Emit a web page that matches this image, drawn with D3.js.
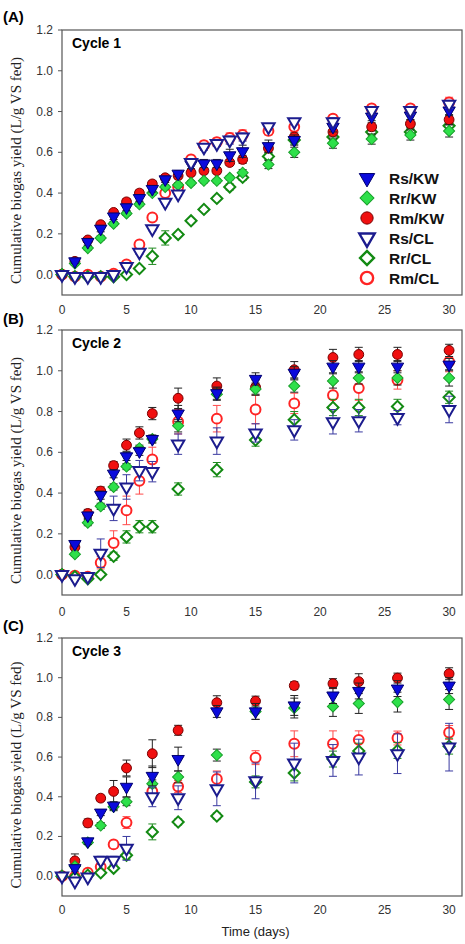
<!DOCTYPE html>
<html>
<head>
<meta charset="utf-8">
<script src="https://cdn.jsdelivr.net/npm/d3@7"></script>
<style>
  body { margin: 0; background: #fff; }
  svg { display: block; }
</style>
</head>
<body>
<svg width="465" height="944"></svg>
<script>
// days sampled in each cycle
var days1 = [0,1,2,3,4,5,6,7,8,9,10,11,12,13,14,16,18,21,24,27,30]
var days2 = [0,1,2,3,4,5,6,7,9,12,15,18,21,23,26,30]
var days3 = [0,1,2,3,4,5,7,9,12,15,18,21,23,26,30]

var seriesNames = ["Rs/KW", "Rr/KW", "Rm/KW", "Rs/CL", "Rr/CL", "Rm/CL"]
var cycleNames = ["Cycle 1", "Cycle 2", "Cycle 3"]
var panelLetters = ["(A)", "(B)", "(C)"]
var yTicks = [0.0, 0.2, 0.4, 0.6, 0.8, 1.0, 1.2]
var xTicks = [0, 5, 10, 15, 20, 25, 30]

// cycle 1 (L/g VS fed)
var c1RsKW = [0,0.065,0.16,0.225,0.285,0.33,0.375,0.42,0.467,0.495,0.54,0.545,0.545,0.585,0.605,0.63,0.66,0.725,0.775,0.78,0.805]
var c1RrKW = [0,0.055,0.13,0.18,0.25,0.30,0.345,0.40,0.43,0.44,0.45,0.46,0.46,0.475,0.50,0.54,0.60,0.645,0.665,0.685,0.705]
var c1RmKW = [0,0.065,0.17,0.245,0.305,0.357,0.40,0.445,0.475,0.485,0.50,0.51,0.51,0.55,0.565,0.62,0.675,0.70,0.725,0.74,0.76]
var c1RsCL = [0,-0.01,-0.01,-0.01,0,0.04,0.11,0.225,0.355,0.395,0.55,0.625,0.643,0.66,0.675,0.725,0.75,0.75,0.805,0.805,0.835]
var c1RrCL = [0,-0.01,-0.01,-0.01,-0.01,0,0.03,0.09,0.18,0.197,0.264,0.32,0.374,0.43,0.477,0.58,0.66,0.675,0.70,0.70,0.73]
var c1RmCL = [0,-0.01,0,-0.01,0.005,0.05,0.148,0.28,0.40,0.43,0.565,0.635,0.65,0.67,0.685,0.705,0.725,0.765,0.815,0.815,0.845]

var c1RsKWErr = [0.005,0.01,0.015,0.015,0.015,0.015,0.015,0.015,0.015,0.015,0.02,0.02,0.02,0.03,0.03,0.03,0.025,0.025,0.02,0.02,0.025]
var c1RrKWErr = [0.005,0.01,0.01,0.01,0.01,0.01,0.01,0.01,0.01,0.01,0.01,0.01,0.01,0.01,0.015,0.02,0.025,0.025,0.025,0.025,0.03]
var c1RmKWErr = [0.005,0.01,0.01,0.01,0.01,0.015,0.015,0.015,0.015,0.015,0.015,0.015,0.015,0.015,0.02,0.02,0.02,0.02,0.02,0.02,0.025]
var c1RsCLErr = [0.005,0.005,0.005,0.005,0.005,0.01,0.01,0.01,0.01,0.01,0.015,0.015,0.015,0.02,0.02,0.015,0.015,0.02,0.02,0.02,0.02]
var c1RrCLErr = [0.005,0.005,0.005,0.005,0.005,0.005,0.01,0.04,0.035,0.01,0.01,0.01,0.01,0.015,0.015,0.015,0.02,0.02,0.02,0.02,0.02]
var c1RmCLErr = [0.005,0.005,0.005,0.005,0.005,0.01,0.01,0.01,0.01,0.01,0.02,0.02,0.02,0.025,0.025,0.02,0.02,0.02,0.02,0.02,0.025]

// cycle 2
var c2RsKW = [0,0.15,0.29,0.39,0.495,0.58,0.605,0.665,0.79,0.89,0.96,0.99,1.02,1.02,1.02,1.03]
var c2RrKW = [0,0.10,0.255,0.335,0.43,0.53,0.62,0.665,0.73,0.885,0.91,0.925,0.95,0.965,0.965,0.965]
var c2RmKW = [0,0.135,0.30,0.41,0.535,0.635,0.695,0.79,0.865,0.925,0.92,1.005,1.065,1.08,1.08,1.10]
var c2RsCL = [0,-0.02,-0.01,0.105,0.325,0.43,0.51,0.505,0.64,0.655,0.695,0.71,0.75,0.755,0.77,0.81]
var c2RrCL = [0,-0.01,-0.02,0,0.09,0.185,0.235,0.235,0.42,0.515,0.66,0.76,0.82,0.82,0.825,0.87]
var c2RmCL = [0,-0.005,-0.01,0.058,0.155,0.315,0.46,0.565,0.75,0.765,0.81,0.84,0.88,0.915,0.955,1.045]

var c2RsKWErr = [0.005,0.01,0.015,0.02,0.02,0.02,0.02,0.02,0.04,0.03,0.03,0.03,0.03,0.03,0.03,0.03]
var c2RrKWErr = [0.005,0.01,0.015,0.015,0.015,0.015,0.015,0.015,0.03,0.03,0.03,0.03,0.035,0.03,0.035,0.04]
var c2RmKWErr = [0.005,0.015,0.02,0.02,0.02,0.03,0.03,0.03,0.05,0.04,0.035,0.04,0.04,0.035,0.035,0.03]
var c2RsCLErr = [0.005,0.01,0.01,0.07,0.06,0.06,0.05,0.05,0.05,0.065,0.045,0.05,0.06,0.055,0.035,0.065]
var c2RrCLErr = [0.005,0.005,0.005,0.005,0.02,0.03,0.03,0.03,0.03,0.035,0.03,0.04,0.04,0.04,0.035,0.03]
var c2RmCLErr = [0.005,0.01,0.01,0.03,0.06,0.07,0.065,0.06,0.06,0.065,0.07,0.05,0.06,0.06,0.045,0.05]

// cycle 3
var c3RsKW = [0,0.04,0.175,0.32,0.355,0.45,0.505,0.59,0.83,0.83,0.86,0.91,0.933,0.945,0.96]
var c3RrKW = [0,0.05,0.17,0.255,0.35,0.375,0.465,0.50,0.61,0.83,0.847,0.855,0.87,0.877,0.89]
var c3RmKW = [0,0.077,0.268,0.393,0.427,0.545,0.617,0.735,0.874,0.882,0.96,0.97,0.98,0.998,1.02]
var c3RsCL = [0,-0.025,-0.005,0.08,0.08,0.14,0.40,0.395,0.44,0.48,0.57,0.583,0.60,0.617,0.65]
var c3RrCL = [0,-0.005,0.005,0.017,0.04,0.105,0.223,0.273,0.303,0.475,0.52,0.59,0.63,0.633,0.655]
var c3RmCL = [0,-0.003,0.017,0.047,0.16,0.27,0.427,0.452,0.49,0.597,0.667,0.667,0.687,0.696,0.724]

var c3RsKWErr = [0.005,0.015,0.015,0.015,0.02,0.05,0.05,0.06,0.03,0.04,0.05,0.04,0.04,0.04,0.04]
var c3RrKWErr = [0.005,0.01,0.01,0.015,0.02,0.02,0.02,0.03,0.03,0.04,0.05,0.05,0.05,0.05,0.05]
var c3RmKWErr = [0.005,0.035,0.02,0.015,0.055,0.04,0.07,0.025,0.035,0.025,0.02,0.025,0.04,0.025,0.03]
var c3RsCLErr = [0.005,0.01,0.01,0.02,0.02,0.06,0.05,0.06,0.085,0.09,0.1,0.08,0.09,0.1,0.12]
var c3RrCLErr = [0.005,0.005,0.01,0.01,0.01,0.02,0.04,0.015,0.015,0.03,0.04,0.04,0.04,0.04,0.04]
var c3RmCLErr = [0.005,0.01,0.015,0.02,0.02,0.03,0.03,0.03,0.04,0.035,0.065,0.065,0.045,0.035,0.035]

var cycles = [
  { days: days1, values: [c1RsKW, c1RrKW, c1RmKW, c1RsCL, c1RrCL, c1RmCL],
    errors: [c1RsKWErr, c1RrKWErr, c1RmKWErr, c1RsCLErr, c1RrCLErr, c1RmCLErr] },
  { days: days2, values: [c2RsKW, c2RrKW, c2RmKW, c2RsCL, c2RrCL, c2RmCL],
    errors: [c2RsKWErr, c2RrKWErr, c2RmKWErr, c2RsCLErr, c2RrCLErr, c2RmCLErr] },
  { days: days3, values: [c3RsKW, c3RrKW, c3RmKW, c3RsCL, c3RrCL, c3RmCL],
    errors: [c3RsKWErr, c3RrKWErr, c3RmKWErr, c3RsCLErr, c3RrCLErr, c3RmCLErr] }
]

// marker style per series, same order as seriesNames
var styles = [
  { shape: "tri",     fill: "#0a0adc", stroke: "#00006e", bar: "#222" },
  { shape: "diamond", fill: "#2ee04a", stroke: "#18a02a", bar: "#222" },
  { shape: "circle",  fill: "#f01010", stroke: "#7a0000", bar: "#222" },
  { shape: "tri",     fill: "#fff",    stroke: "#1c1c8e", bar: "#3a3aa0" },
  { shape: "diamond", fill: "#fff",    stroke: "#138a13", bar: "#1f8a1f" },
  { shape: "circle",  fill: "#fff",    stroke: "#ff2424", bar: "#ff4a4a" }
]
// drawing order (back to front)
var drawOrder = [5, 4, 2, 1, 0, 3]

var panels = [
  { top: 30,  bottom: 295, tickY: 314, letterY: 22 },
  { top: 330, bottom: 595, tickY: 616, letterY: 324 },
  { top: 638, bottom: 896, tickY: 914, letterY: 631 }
]

var svg = d3.select("svg")
var left = 62, right = 462

var x = d3.scaleLinear().domain([0, 31]).range([left, right])

function symbolPath(shape, big) {
  var k = big ? 1.25 : 1
  if (shape == "tri") {
    return d3.symbol().type(d3.symbolTriangle).size(66 * k * k)()
  } else if (shape == "diamond") {
    return d3.symbol().type(d3.symbolSquare).size(62 * k * k)()
  }
  return d3.symbol().type(d3.symbolCircle).size(76 * k * k)()
}

function rot(shape) {
  if (shape == "tri") return " rotate(180)"
  if (shape == "diamond") return " rotate(45)"
  return ""
}

panels.forEach(function (p, i) {
  var y = d3.scaleLinear().domain([-0.1, 1.2]).range([p.bottom, p.top])
  var data = cycles[i]

  // frame
  svg.append("rect")
    .attr("x", left).attr("y", p.top)
    .attr("width", right - left).attr("height", p.bottom - p.top)
    .attr("fill", "none").attr("stroke", "#555").attr("stroke-width", 1.2)

  // y ticks
  yTicks.forEach(function (t) {
    svg.append("line")
      .attr("x1", left - 4).attr("x2", left)
      .attr("y1", y(t)).attr("y2", y(t))
      .attr("stroke", "#555")
    svg.append("text")
      .attr("x", left - 9).attr("y", y(t) + 4)
      .attr("text-anchor", "end")
      .attr("font-family", "Liberation Sans, Arial, sans-serif")
      .attr("font-size", 12).attr("fill", "#333")
      .text(t.toFixed(1))
  })

  // x ticks labels
  xTicks.forEach(function (t) {
    svg.append("text")
      .attr("x", x(t)).attr("y", p.tickY)
      .attr("text-anchor", "middle")
      .attr("font-family", "Liberation Sans, Arial, sans-serif")
      .attr("font-size", 12).attr("fill", "#333")
      .text(t)
  })

  svg.append("text")
    .attr("x", 3).attr("y", p.letterY)
    .attr("font-family", "Liberation Sans, Arial, sans-serif")
    .attr("font-weight", "bold").attr("font-size", 15)
    .text(panelLetters[i])

  svg.append("text")
    .attr("x", 72).attr("y", p.top + 18)
    .attr("font-family", "Liberation Sans, Arial, sans-serif")
    .attr("font-weight", "bold").attr("font-size", 14)
    .text(cycleNames[i])

  var cy = (p.top + p.bottom) / 2 + 8
  svg.append("text")
    .attr("transform", "translate(21," + cy + ") rotate(-90)")
    .attr("text-anchor", "middle")
    .attr("font-family", "Liberation Serif, Times New Roman, serif")
    .attr("font-size", 15).attr("fill", "#222")
    .text("Cumulative biogas yield (L/g VS fed)")

  // error bars then markers, per series
  drawOrder.forEach(function (s) {
    var st = styles[s]
    var vals = data.values[s]
    var errs = data.errors[s]
    var g = svg.append("g")
    data.days.forEach(function (d, j) {
      var cx = x(d)
      var lo = y(vals[j] - errs[j]), hi = y(vals[j] + errs[j])
      g.append("line").attr("x1", cx).attr("x2", cx).attr("y1", lo).attr("y2", hi)
        .attr("stroke", st.bar).attr("stroke-width", 1)
      g.append("line").attr("x1", cx - 4).attr("x2", cx + 4).attr("y1", lo).attr("y2", lo)
        .attr("stroke", st.bar).attr("stroke-width", 1)
      g.append("line").attr("x1", cx - 4).attr("x2", cx + 4).attr("y1", hi).attr("y2", hi)
        .attr("stroke", st.bar).attr("stroke-width", 1)
    })
    data.days.forEach(function (d, j) {
      g.append("path")
        .attr("d", symbolPath(st.shape, false))
        .attr("transform", "translate(" + x(d) + "," + y(vals[j]) + ")" + rot(st.shape))
        .attr("fill", st.fill)
        .attr("stroke", st.stroke)
        .attr("stroke-width", st.fill == "#fff" ? 2 : 1)
    })
  })
})

// legend in panel A
seriesNames.forEach(function (name, i) {
  var st = styles[i]
  var ly = 178 + i * 20
  svg.append("path")
    .attr("d", symbolPath(st.shape, true))
    .attr("transform", "translate(367," + ly + ")" + rot(st.shape))
    .attr("fill", st.fill)
    .attr("stroke", st.stroke)
    .attr("stroke-width", st.fill == "#fff" ? 2.4 : 1)
  svg.append("text")
    .attr("x", 389).attr("y", ly + 5.5)
    .attr("font-family", "Liberation Sans, Arial, sans-serif")
    .attr("font-weight", "bold").attr("font-size", 15.5)
    .attr("fill", "#111")
    .text(name)
})

svg.append("text")
  .attr("x", x(15)).attr("y", 936)
  .attr("text-anchor", "middle")
  .attr("font-family", "Liberation Sans, Arial, sans-serif")
  .attr("font-size", 13).attr("fill", "#222")
  .text("Time (days)")
</script>
</body>
</html>
